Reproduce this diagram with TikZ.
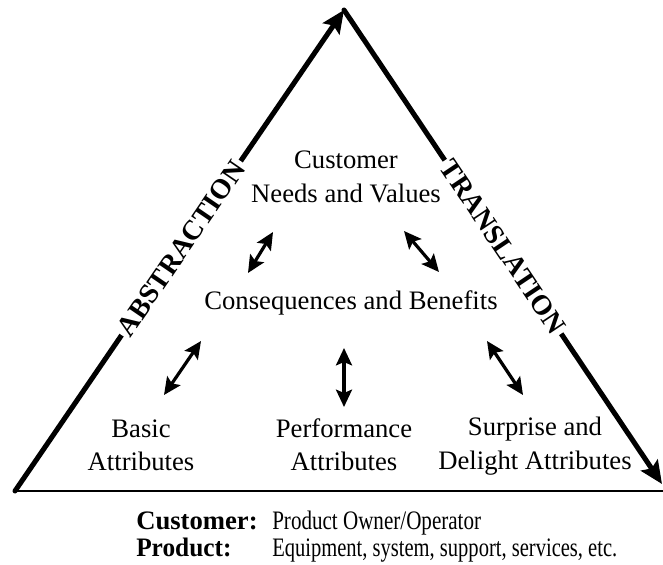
\documentclass[tikz,border=0pt]{standalone}
\usepackage{fontspec}
\setmainfont{Liberation Serif}
\usetikzlibrary{arrows.meta}
\begin{document}
\begin{tikzpicture}[x=0.75pt,y=-0.75pt,
  side/.style={line width=3.8pt, line cap=round, -{Stealth[length=17pt,width=15pt,inset=3pt]}},
  dbl/.style={line width=2.4pt, {Stealth[length=13pt,width=12pt,inset=2.5pt]}-{Stealth[length=13pt,width=12pt,inset=2.5pt]}},
  lbl/.style={font=\fontsize{20}{25}\selectfont, align=center, inner sep=0pt},
  foot/.style={font=\fontsize{20}{24}\selectfont, inner sep=0pt, anchor=base west},
  side label/.style={font=\fontsize{21}{25}\selectfont\bfseries, fill=white, inner sep=2pt},
]
\useasboundingbox (0,0) rectangle (663,564);
% triangle
\coordinate (BL) at (15,491);
\coordinate (Top) at (344,10);
\coordinate (BR) at (662,484);
\coordinate (BE) at (663,491);
\draw[side] (BL) -- (Top);
\draw[side] (Top) -- (BR);
\draw[line width=1pt] (BL) -- (BE);
\path (BL) -- (Top) node[side label, sloped, pos=0.505] (abs) {ABSTRACTION};
\path (Top) -- (BR) node[side label, sloped, pos=0.5] (trans) {TRANSLATION};
% labels
\node[lbl] (needs) at (346,177) {Customer\\Needs and Values};
\node[lbl] (cons) at (351,303) {Consequences and Benefits};
\node[lbl] (basic) at (141,445) {Basic\\Attributes};
\node[lbl] (perf) at (344,445) {Performance\\Attributes};
\node[lbl] (surp) at (535,446) {Surprise and\\Delight Attributes};
% double arrows
\coordinate (a1s) at (273,232); \coordinate (a1e) at (248,273);
\coordinate (a2s) at (404,231); \coordinate (a2e) at (439,272);
\coordinate (a3s) at (201,341); \coordinate (a3e) at (164,395);
\coordinate (a4s) at (344,348); \coordinate (a4e) at (344,407);
\coordinate (a5s) at (487,341); \coordinate (a5e) at (523,395);
\draw[dbl] (a1s) -- (a1e);
\draw[dbl] (a2s) -- (a2e);
\draw[dbl] (a3s) -- (a3e);
\draw[dbl] (a4s) -- (a4e);
\draw[dbl] (a5s) -- (a5e);
% footer
\node[foot] (k1) at (136,529) {\bfseries Customer:};
\node[foot] (v1) at (272,529) {\scalebox{0.79}[1]{Product Owner/Operator}};
\node[foot] (k2) at (136,556) {\bfseries\scalebox{0.95}[1]{Product:}};
\node[foot] (v2) at (272,556) {\scalebox{0.77}[1]{Equipment, system, support, services, etc.}};
\end{tikzpicture}
\end{document}
